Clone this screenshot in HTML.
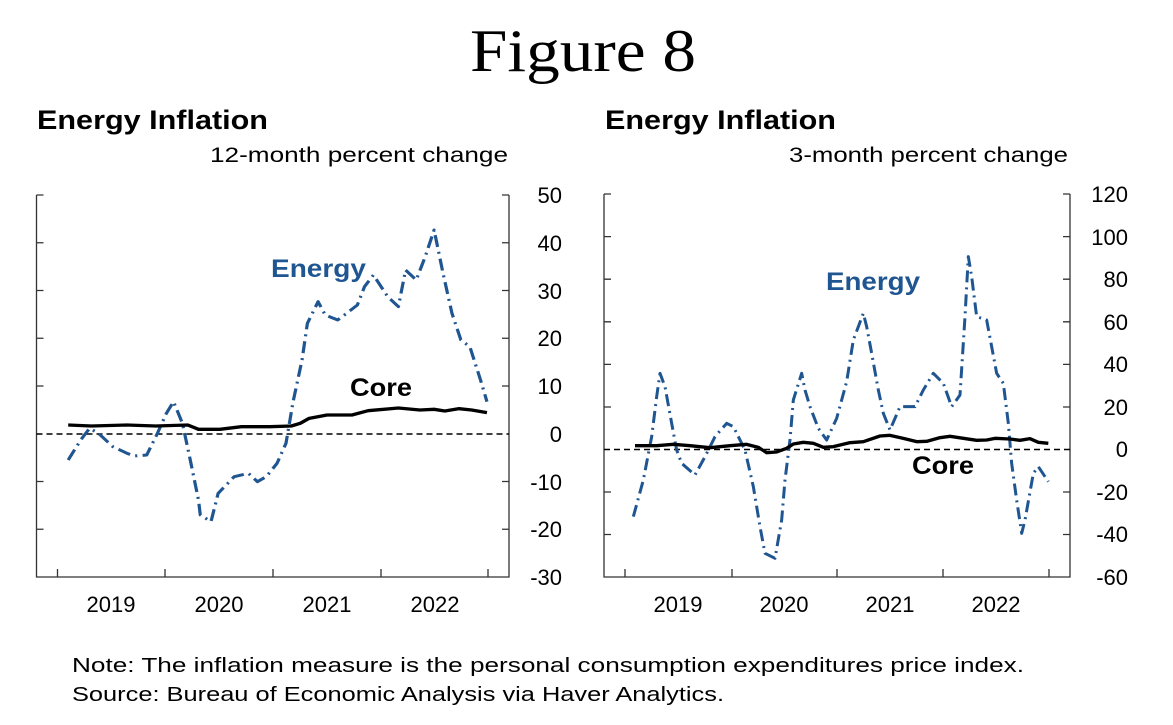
<!DOCTYPE html>
<html><head><meta charset="utf-8"><style>
body{margin:0;background:#fff;width:1173px;height:725px;overflow:hidden}
svg{display:block}
text{font-family:"Liberation Sans",sans-serif}
</style></head><body>
<svg width="1173" height="725" viewBox="0 0 1173 725">
<text x="470" y="71" font-size="60" textLength="226" lengthAdjust="spacingAndGlyphs" style="font-family:'Liberation Serif',serif">Figure 8</text>
<text x="37" y="129" font-size="27" font-weight="bold" textLength="231" lengthAdjust="spacingAndGlyphs">Energy Inflation</text>
<text x="210" y="162" font-size="21" textLength="298" lengthAdjust="spacingAndGlyphs">12-month percent change</text>
<text x="605" y="129" font-size="27" font-weight="bold" textLength="231" lengthAdjust="spacingAndGlyphs">Energy Inflation</text>
<text x="789" y="162" font-size="21" textLength="279" lengthAdjust="spacingAndGlyphs">3-month percent change</text>

<!-- left panel -->
<g stroke="#333" stroke-width="1.3" fill="none">
<path d="M36.5 195V577H509V195"/>
<path d="M36.5 195h7M36.5 242.75h7M36.5 290.5h7M36.5 338.25h7M36.5 386h7M36.5 481.5h7M36.5 529.25h7"/>
<path d="M509 195h-7M509 242.75h-7M509 290.5h-7M509 338.25h-7M509 386h-7M509 481.5h-7M509 529.25h-7"/>
<path d="M57.5 577v-8M165 577v-8M273 577v-8M381 577v-8M488 577v-8"/>
</g>
<path d="M36.5 434H509" stroke="#000" stroke-width="1.5" stroke-dasharray="6,4"/>
<g font-size="22" text-anchor="end">
<text x="562" y="203">50</text><text x="562" y="251">40</text><text x="562" y="299">30</text><text x="562" y="346">20</text><text x="562" y="394">10</text><text x="562" y="442">0</text><text x="562" y="490">-10</text><text x="562" y="537">-20</text><text x="562" y="585">-30</text>
</g>
<g font-size="22" text-anchor="middle">
<text x="111" y="612">2019</text><text x="219" y="612">2020</text><text x="327" y="612">2021</text><text x="435" y="612">2022</text>
</g>
<g transform="translate(20,180) scale(0.357,0.33333)" fill="none" stroke-linejoin="round">
<path stroke="#1f5591" stroke-width="9" stroke-dasharray="36,15,6,15" d="M135 840L170 780L195 745L220 760L260 800L300 820L320 828L355 825L385 760L410 700L430 665L455 730L475 830L500 960L505 1005L535 1025L555 940L600 890L640 880L665 905L690 890L720 850L745 790L765 665L790 540L805 430L835 365L855 405L890 420L915 400L945 375L965 320L990 285L1030 350L1060 380L1080 270L1110 300L1135 230L1160 150L1185 280L1210 400L1235 480L1260 500L1290 600L1308 665"/>
<path stroke="#000" stroke-width="10" d="M135 735L200 738L300 735L380 738L470 735L500 748L560 748L620 740L700 740L760 738L785 730L810 715L860 705L930 705L975 692L1060 684L1120 690L1160 688L1190 693L1230 686L1265 690L1308 698"/>
</g>
<text x="271" y="277" font-size="25" font-weight="bold" fill="#1f5591" textLength="95" lengthAdjust="spacingAndGlyphs">Energy</text>
<text x="350" y="396" font-size="25" font-weight="bold" textLength="62" lengthAdjust="spacingAndGlyphs">Core</text>

<!-- right panel -->
<g stroke="#333" stroke-width="1.3" fill="none">
<path d="M604 194V577H1070V194"/>
<path d="M604 194h7M604 236.6h7M604 279.2h7M604 321.8h7M604 364.4h7M604 407h7M604 492h7M604 534.5h7"/>
<path d="M1070 194h-7M1070 236.6h-7M1070 279.2h-7M1070 321.8h-7M1070 364.4h-7M1070 407h-7M1070 492h-7M1070 534.5h-7"/>
<path d="M625 577v-8M732 577v-8M837 577v-8M943 577v-8M1049 577v-8"/>
</g>
<path d="M604 449.5H1070" stroke="#000" stroke-width="1.5" stroke-dasharray="6,4"/>
<g font-size="22" text-anchor="end">
<text x="1128" y="202">120</text><text x="1128" y="245">100</text><text x="1128" y="287">80</text><text x="1128" y="330">60</text><text x="1128" y="372">40</text><text x="1128" y="415">20</text><text x="1128" y="457">0</text><text x="1128" y="500">-20</text><text x="1128" y="542">-40</text><text x="1128" y="585">-60</text>
</g>
<g font-size="22" text-anchor="middle">
<text x="678" y="612">2019</text><text x="784" y="612">2020</text><text x="890" y="612">2021</text><text x="996" y="612">2022</text>
</g>
<g transform="translate(590,180) scale(0.33333)" fill="none" stroke-linejoin="round">
<path stroke="#1f5591" stroke-width="9" stroke-dasharray="36,15,6,15" d="M130 1010L160 900L185 770L200 650L210 580L225 620L245 730L260 810L275 850L315 885L345 830L375 770L410 730L430 740L465 810L490 920L510 1040L525 1120L555 1135L575 1020L585 900L600 780L610 660L635 580L645 630L660 680L685 745L710 780L740 715L770 605L790 480L820 400L830 440L845 520L865 630L880 700L900 750L930 680L975 680L1000 630L1030 580L1060 610L1085 680L1110 645L1125 410L1135 230L1145 290L1160 410L1190 420L1205 500L1220 580L1240 610L1255 730L1265 850L1280 960L1295 1060L1305 1020L1330 880L1345 860L1375 905"/>
<path stroke="#000" stroke-width="10" d="M135 797L200 797L250 793L300 797L360 803L420 797L470 793L505 802L530 818L560 816L590 805L610 792L640 787L670 790L700 802L730 800L780 788L820 785L870 768L900 766L940 775L980 785L1010 784L1050 773L1080 769L1120 775L1160 781L1190 780L1215 775L1260 777L1290 781L1320 776L1345 787L1375 790"/>
</g>
<text x="826" y="290" font-size="25" font-weight="bold" fill="#1f5591" textLength="94" lengthAdjust="spacingAndGlyphs">Energy</text>
<text x="912" y="474" font-size="25" font-weight="bold" textLength="62" lengthAdjust="spacingAndGlyphs">Core</text>

<text x="72" y="672" font-size="20" textLength="952" lengthAdjust="spacingAndGlyphs">Note:  The inflation measure is the personal consumption expenditures price index.</text>
<text x="72" y="701" font-size="20" textLength="652" lengthAdjust="spacingAndGlyphs">Source:  Bureau of Economic Analysis via Haver Analytics.</text>
</svg>
</body></html>
